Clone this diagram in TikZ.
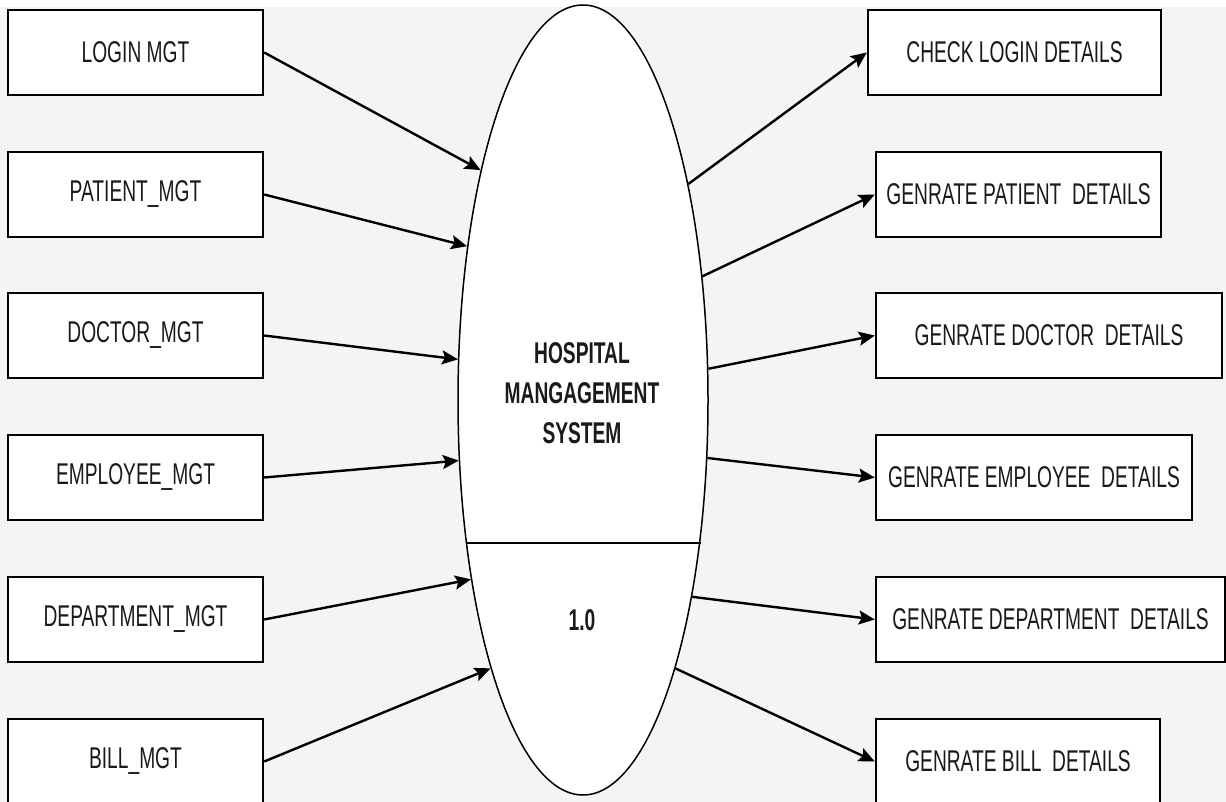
\documentclass[tikz,border=0pt]{standalone}
\usepackage{fontspec}
\setmainfont{Liberation Sans}[FakeStretch=0.64]
\usetikzlibrary{shapes.geometric,arrows.meta,calc}
\definecolor{bgc}{HTML}{F4F4F4}
\definecolor{txt}{HTML}{1A1A1A}
\tikzset{
  box/.style={draw=black, line width=2.4pt, fill=white, minimum height=85pt, inner sep=0pt,
    text=txt, font=\fontsize{30}{36}\selectfont},
  lbox/.style={box, minimum width=255pt},
  arr/.style={line width=2.4pt, -{Stealth[length=16pt,width=14pt,inset=3pt]}},
}
\begin{document}
\begin{tikzpicture}[x=1pt,y=-1pt]
\fill[bgc] (0,0) rectangle (1226,802);
\fill[white] (0,0) rectangle (1226,7);
\useasboundingbox (0,0) rectangle (1226,802);
% process
\node[ellipse, draw=black, line width=1.5pt, fill=white, minimum width=250pt, minimum height=790pt, inner sep=0pt] (hms) at (583,400) {};
\draw[line width=2.4pt] ($(hms.center)+(-117.5,143)$) coordinate (dl) -- ($(hms.center)+(117.5,143)$) coordinate (dr);
\node[font=\bfseries\fontsize{30}{40}\selectfont, align=center, text=txt] (title) at (582,393) {HOSPITAL\\MANGAGEMENT\\SYSTEM};
\node[font=\bfseries\fontsize{30}{36}\selectfont, text=txt] (num) at (582,620) {1.0};
% left boxes
\node[lbox] (l1) at (135.5,52.5) {LOGIN MGT};
\node[lbox] (l2) at (135.5,194.5) {PATIENT\_MGT};
\node[lbox] (l3) at (135.5,335.5) {DOCTOR\_MGT};
\node[lbox] (l4) at (135.5,477.5) {EMPLOYEE\_MGT};
\node[lbox] (l5) at (135.5,619.5) {DEPARTMENT\_MGT};
\node[lbox] (l6) at (135.5,761.5) {BILL\_MGT};
% right boxes
\node[box, minimum width=293pt] (r1) at (1014.5,52.5) {CHECK LOGIN DETAILS};
\node[box, minimum width=285pt] (r2) at (1018.5,194.5) {GENRATE PATIENT\ \ DETAILS};
\node[box, minimum width=346pt] (r3) at (1049,335.5) {GENRATE DOCTOR\ \ DETAILS};
\node[box, minimum width=316pt] (r4) at (1034,477.5) {GENRATE EMPLOYEE\ \ DETAILS};
\node[box, minimum width=349pt] (r5) at (1050.5,619.5) {GENRATE DEPARTMENT\ \ DETAILS};
\node[box, minimum width=284pt] (r6) at (1018,761.5) {GENRATE BILL\ \ DETAILS};
% inputs
\draw[arr] (l1.east) -- (hms.114.4);
\draw[arr] (l2.east) -- (hms.127);
\draw[arr] (l3.east) -- (hms.162.5);
\draw[arr] (l4.east) -- (hms.206.2);
\draw[arr] (l5.east) -- (hms.238.9);
\draw[arr] (l6.east) -- (hms.251.3);
% outputs
\draw[arr] (hms.64.5) -- (r1.west);
\draw[arr] (hms.46.4) -- (r2.west);
\draw[arr] (hms.14.4) -- (r3.west);
\draw[arr] (hms.335.6) -- (r4.west);
\draw[arr] (hms.299.6) -- (r5.west);
\draw[arr] (hms.289.3) -- (r6.west);
\end{tikzpicture}
\end{document}
